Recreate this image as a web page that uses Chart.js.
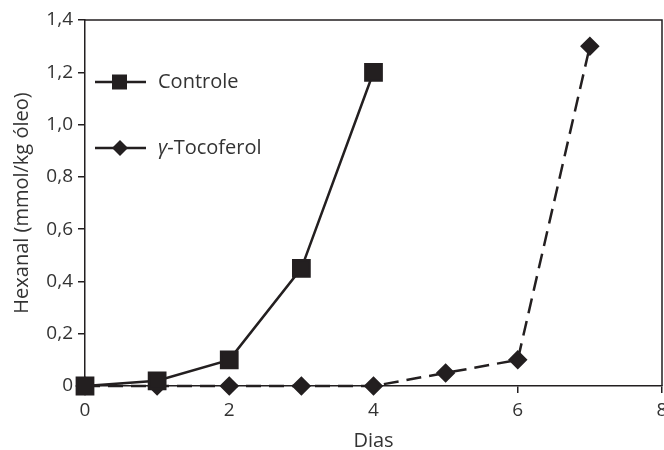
<!DOCTYPE html>
<html>
<head>
<meta charset="utf-8">
<script src="https://cdn.jsdelivr.net/npm/chart.js@4"></script>
<style>
  html, body { margin: 0; padding: 0; background: #fff; }
  #wrap { width: 664px; height: 450px; }
</style>
</head>
<body>
<div id="wrap"><canvas id="myChart" width="664" height="450"></canvas></div>
<script>
const dias = [0, 1, 2, 3, 4, 5, 6, 7];
const controle = [0, 0.02, 0.1, 0.45, 1.2];
const tocoferol = [0, 0, 0, 0, 0, 0.05, 0.1, 1.3];
const xTicks = [0, 2, 4, 6, 8];

const ink = "#231f20";
const textInk = "#333";
const fontFamily = "'Open Sans', 'Noto Sans', sans-serif";

function toPoints(values) {
    return values.map((v, i) => ({ x: dias[i], y: v }));
}

// box around plot + legend drawn inside the plot area
const framePlugin = {
    id: "frame",
    beforeDatasetsDraw(chart) {
        const { ctx, chartArea: a } = chart;
        ctx.save();
        ctx.strokeStyle = ink;
        ctx.lineWidth = 1.5;
        ctx.beginPath();
        ctx.moveTo(a.left, a.top);
        ctx.lineTo(a.right, a.top);
        ctx.lineTo(a.right, a.bottom);
        ctx.stroke();
        ctx.restore();
    },
    afterDraw(chart) {
        const { ctx } = chart;
        const rows = [
            { y: 82, dash: [], marker: "square", label: ["", "Controle"] },
            { y: 148, dash: [22, 9], marker: "diamond", label: ["γ", "-Tocoferol"] }
        ];
        ctx.save();
        rows.forEach(r => {
            ctx.strokeStyle = ink;
            ctx.fillStyle = ink;
            ctx.lineWidth = 2.5;
            ctx.setLineDash(r.dash);
            ctx.beginPath();
            ctx.moveTo(95, r.y);
            ctx.lineTo(146, r.y);
            ctx.stroke();
            ctx.setLineDash([]);
            ctx.beginPath();
            if (r.marker === "square") {
                ctx.rect(112, r.y - 7.5, 15, 15);
            } else {
                ctx.moveTo(120, r.y - 8);
                ctx.lineTo(128, r.y);
                ctx.lineTo(120, r.y + 8);
                ctx.lineTo(112, r.y);
                ctx.closePath();
            }
            ctx.fill();
            ctx.fillStyle = textInk;
            ctx.textBaseline = "middle";
            let x = 158;
            if (r.label[0]) {
                ctx.font = "italic 20px " + fontFamily;
                ctx.fillText(r.label[0], x, r.y);
                x += ctx.measureText(r.label[0]).width;
            }
            ctx.font = "20px " + fontFamily;
            ctx.fillText(r.label[1], x, r.y);
        });
        ctx.restore();
    }
};

new Chart("myChart", {
    type: "line",
    data: {
        datasets: [{
            label: "Controle",
            data: toPoints(controle),
            borderColor: ink,
            backgroundColor: ink,
            borderWidth: 2.5,
            pointStyle: "rect",
            pointRadius: 11.5,
            pointHoverRadius: 11.5,
            tension: 0,
            clip: false
        }, {
            label: "γ-Tocoferol",
            data: toPoints(tocoferol),
            borderColor: ink,
            backgroundColor: ink,
            borderWidth: 2.5,
            borderDash: [15, 8],
            pointStyle: "rectRot",
            pointRadius: 8,
            pointHoverRadius: 8,
            tension: 0,
            clip: false
        }]
    },
    options: {
        responsive: false,
        animation: false,
        layout: { autoPadding: false, padding: { top: 20, right: 2, left: 0, bottom: 0 } },
        plugins: {
            legend: { display: false },
            tooltip: { enabled: false }
        },
        scales: {
            x: {
                type: "linear",
                min: 0,
                max: 8,
                afterBuildTicks: s => { s.ticks = xTicks.map(v => ({ value: v })); },
                afterFit: s => { s.height = 64; s.paddingLeft = 0; s.paddingRight = 0; },
                grid: { display: true, drawOnChartArea: false, drawTicks: true, tickLength: 7, color: ink, lineWidth: 1.5 },
                border: { display: true, color: ink, width: 1.5 },
                ticks: {
                    color: textInk,
                    padding: 6,
                    font: { family: fontFamily, size: 19 },
                    callback: v => String(v)
                },
                title: {
                    display: true,
                    text: "Dias",
                    color: textInk,
                    padding: { top: 0, bottom: 0 },
                    font: { family: fontFamily, size: 20, lineHeight: 0.85 }
                }
            },
            y: {
                min: 0,
                max: 1.4,
                ticks: {
                    stepSize: 0.2,
                    color: textInk,
                    padding: 5,
                    font: { family: fontFamily, size: 19 },
                    callback: v => v === 0 ? "0" : v.toFixed(1).replace(".", ",")
                },
                afterFit: s => { s.width = 85; },
                grid: { display: true, drawOnChartArea: false, drawTicks: true, tickLength: 7, color: ink, lineWidth: 1.5 },
                border: { display: true, color: ink, width: 1.5 },
                title: {
                    display: true,
                    text: "Hexanal (mmol/kg óleo)",
                    color: textInk,
                    padding: { top: 10, bottom: 0 },
                    font: { family: fontFamily, size: 20 }
                }
            }
        }
    },
    plugins: [framePlugin]
});
</script>
</body>
</html>
